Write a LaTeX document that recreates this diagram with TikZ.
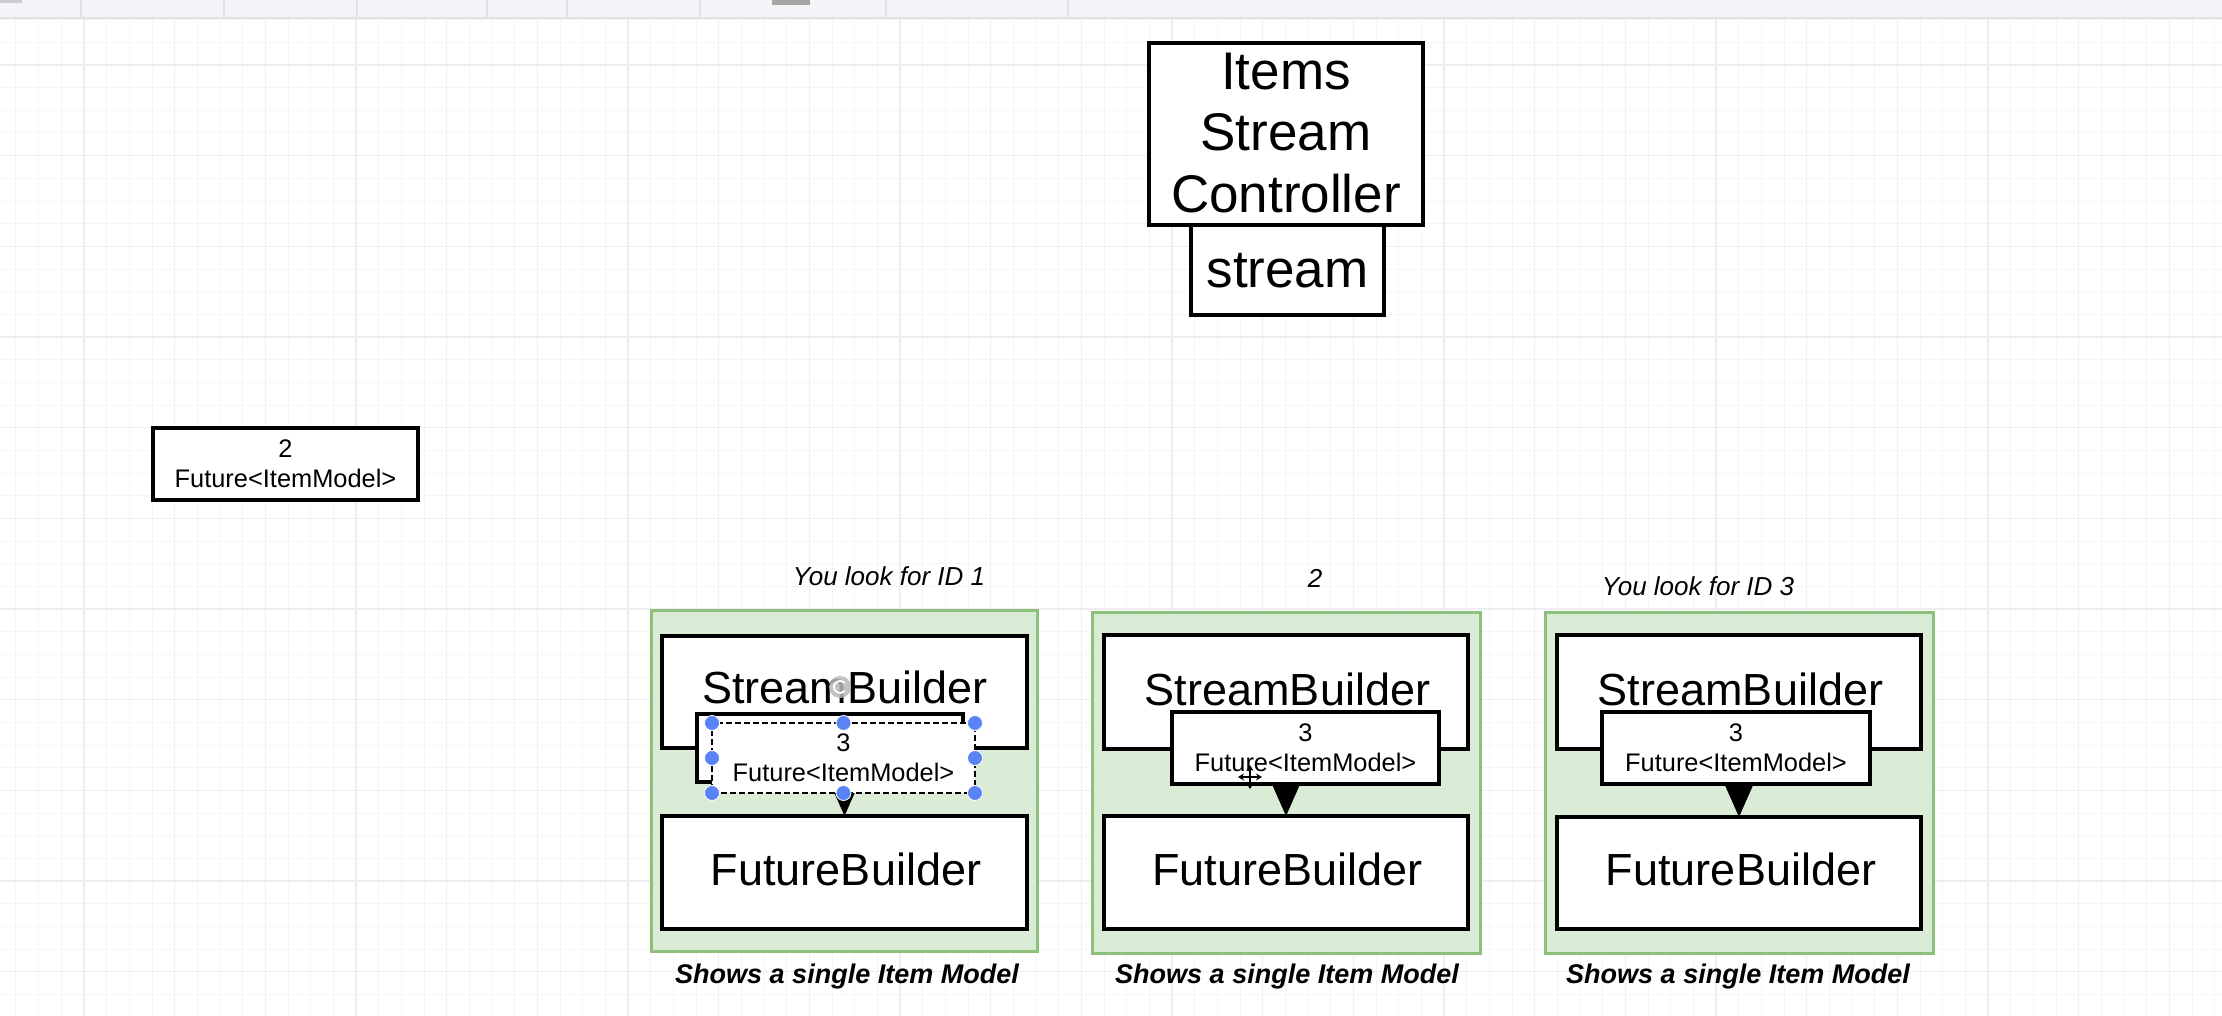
\documentclass[tikz,border=0pt]{standalone}
\usepackage{fontspec}
\setmainfont{Liberation Sans}
\usetikzlibrary{arrows.meta}
\definecolor{gridmaj}{HTML}{EEEEF2}
\definecolor{gridmin}{HTML}{F5F5F8}
\definecolor{toolbar}{HTML}{F4F3F7}
\definecolor{toolline}{HTML}{E2E1E6}
\definecolor{grfill}{HTML}{DAEBD6}
\definecolor{grline}{HTML}{8DC07A}
\definecolor{handle}{HTML}{5A84F5}
\begin{document}
\begin{tikzpicture}[x=0.5pt,y=-0.5pt,
  box/.style={draw=black, line width=1.6pt, fill=white, inner sep=0pt, outer sep=0pt},
  panel/.style={draw=grline, line width=1.5pt, fill=grfill, inner sep=0pt, outer sep=0pt},
  bigtxt/.style={font=\fontsize{22.5}{27}\selectfont, inner sep=0pt, anchor=base},
  hugetxt/.style={font=\fontsize{26.5}{30.75}\selectfont, inner sep=0pt, align=center},
  smalltxt/.style={font=\fontsize{12.7}{15}\selectfont, inner sep=0pt, align=center},
  lbl/.style={font=\itshape\fontsize{13}{15}\selectfont, inner sep=0pt, anchor=base},
  captxt/.style={font=\bfseries\itshape\fontsize{13.5}{16}\selectfont, inner sep=0pt, anchor=base},
  arr/.style={line width=0.75pt, -{Triangle[length=15.5pt,width=13.5pt]}},
  preview/.style={draw=black, line width=1pt, dash pattern=on 3pt off 1.5pt, fill=white, inner sep=0pt, outer sep=0pt},
  hdl/.style={fill=handle, draw=white, line width=0.4pt}
]
\useasboundingbox (0,0) rectangle (2222,1016);
\fill[white] (0,0) rectangle (2222,1016);
% grid
\foreach \j in {-3,...,94} \draw[gridmin, line width=0.5pt] ({84+22.667*\j},18) -- ({84+22.667*\j},1016);
\foreach \j in {-2,...,42} \draw[gridmin, line width=0.5pt] (0,{65+22.667*\j}) -- (2222,{65+22.667*\j});
\foreach \k in {0,...,23} \draw[gridmaj, line width=0.6pt] ({84+90.667*\k},18) -- ({84+90.667*\k},1016);
\foreach \k in {0,...,10} \draw[gridmaj, line width=0.6pt] (0,{65+90.667*\k}) -- (2222,{65+90.667*\k});
% toolbar
\fill[toolbar] (0,0) rectangle (2222,18);
\draw[toolline, line width=1pt] (0,18) -- (2222,18);
\foreach \x in {81,224,357,487,567,700,886,1068} \draw[toolline, line width=0.6pt] (\x,0) -- (\x,18);
\fill[gray!70] (772,0) rectangle (810,5);
\fill[gray!40] (0,0) rectangle (22,3);

% controller
\node[box, minimum width=137pt, minimum height=91pt] (ctrl) at (1286,134) {};
\node[box, minimum width=96.5pt, minimum height=45pt] (strm) at (1287.5,270) {};
\node[hugetxt] (ctrlt) at (1286,133) {Items\\Stream\\Controller};
\node[hugetxt, anchor=base] (strmt) at (1287.5,287) {stream};

% lone future
\node[box, minimum width=132.5pt, minimum height=36pt] (fl) at (285.5,464) {};
\node[smalltxt] (flt) at (285.5,463.5) {2\\Future<ItemModel>};

% panel 1
\node[lbl] (l1) at (889,585) {You look for ID 1};
\node[panel, minimum width=193pt, minimum height=170.5pt] (p1) at (844,780.5) {};
\node[box, minimum width=182.5pt, minimum height=56pt] (sb1) at (844.5,692) {};
\node[box, minimum width=182.5pt, minimum height=56.5pt] (fb1) at (844.5,872.5) {};
\node[bigtxt] (sb1t) at (845,703) {StreamBuilder};
\node[bigtxt] (fb1t) at (846,885) {FutureBuilder};
\draw[arr] (sb1) -- (fb1);
\node[box, minimum width=133pt, minimum height=34pt] (fo1) at (830,748) {};
\node[preview, minimum width=131.5pt, minimum height=35pt] (fp1) at (843.5,758) {};
\node[smalltxt] (fp1t) at (843.5,758) {3\\Future<ItemModel>};
\foreach \p in {north west,north,north east,west,east,south west,south,south east}
  \path[hdl] (fp1.\p) circle (3.75pt);
\fill[gray!55, opacity=0.85] (840,687) circle (5.5pt);
\draw[white, line width=0.9pt] (840,687) ++(40:3pt) arc (40:320:3pt);
\node[captxt] (c1) at (847,983) {Shows a single Item Model};

% panel 2
\node[lbl] (l2) at (1315,587) {2};
\node[panel, minimum width=194pt, minimum height=170.5pt] (p2) at (1286,782.5) {};
\node[box, minimum width=182pt, minimum height=57pt] (sb2) at (1286,692) {};
\node[box, minimum width=182pt, minimum height=56.5pt] (fb2) at (1286,872.5) {};
\node[bigtxt] (sb2t) at (1287.5,705) {StreamBuilder};
\node[bigtxt] (fb2t) at (1287.5,885) {FutureBuilder};
\draw[arr] (sb2) -- (fb2);
\node[box, minimum width=133.5pt, minimum height=36pt] (fu2) at (1305.5,748) {};
\node[smalltxt] (fu2t) at (1305.5,748) {3\\Future<ItemModel>};
\draw[line width=0.9pt, {Stealth[length=3pt,width=3.5pt]}-{Stealth[length=3pt,width=3.5pt]}] (1238,777) -- (1262,777);
\draw[line width=0.9pt, {Stealth[length=3pt,width=3.5pt]}-{Stealth[length=3pt,width=3.5pt]}] (1250,765) -- (1250,789);
\node[captxt] (c2) at (1287,983) {Shows a single Item Model};

% panel 3
\node[lbl] (l3) at (1698,595) {You look for ID 3};
\node[panel, minimum width=194pt, minimum height=170.5pt] (p3) at (1739,782.5) {};
\node[box, minimum width=182pt, minimum height=57pt] (sb3) at (1739,692) {};
\node[box, minimum width=182pt, minimum height=56pt] (fb3) at (1739,873) {};
\node[bigtxt] (sb3t) at (1740.5,705) {StreamBuilder};
\node[bigtxt] (fb3t) at (1741,885) {FutureBuilder};
\draw[arr] (sb3) -- (fb3);
\node[box, minimum width=134pt, minimum height=36pt] (fu3) at (1736,748) {};
\node[smalltxt] (fu3t) at (1736,748) {3\\Future<ItemModel>};
\node[captxt] (c3) at (1738,983) {Shows a single Item Model};
\end{tikzpicture}
\end{document}
